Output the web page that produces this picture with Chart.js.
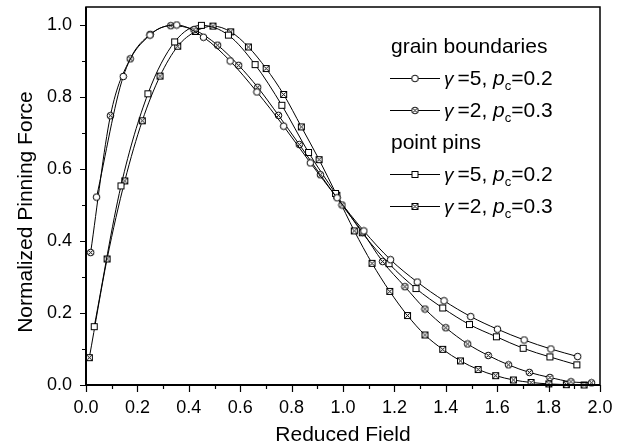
<!DOCTYPE html>
<html>
<head>
<meta charset="utf-8">
<script src="https://cdn.jsdelivr.net/npm/chart.js@4/dist/chart.umd.min.js"></script>
<style>
  html, body { margin: 0; padding: 0; background: #fff; }
  #chart { display: block; }
</style>
</head>
<body>
<canvas id="chart" width="621" height="447"></canvas>
<script>
// --- Data ---
// grain boundaries, gamma=5, pc=0.2 (open circles)
const gb5X = [0.041, 0.145, 0.249, 0.353, 0.457, 0.561, 0.665, 0.769, 0.873, 0.977, 1.081, 1.185, 1.289, 1.393, 1.497, 1.601, 1.705, 1.809, 1.913];
const gb5Y = [0.522, 0.857, 0.972, 1.000, 0.966, 0.900, 0.814, 0.719, 0.617, 0.520, 0.428, 0.348, 0.286, 0.234, 0.190, 0.155, 0.125, 0.100, 0.079];

// grain boundaries, gamma=2, pc=0.3 (hatched circles)
const gb2X = [0.018, 0.095, 0.172, 0.250, 0.330, 0.420, 0.512, 0.594, 0.668, 0.749, 0.830, 0.912, 0.996, 1.076, 1.154, 1.241, 1.319, 1.400, 1.485, 1.565, 1.644, 1.725, 1.805, 1.887, 1.967];
const gb2Y = [0.368, 0.748, 0.906, 0.974, 0.998, 0.987, 0.944, 0.888, 0.827, 0.749, 0.668, 0.584, 0.500, 0.425, 0.343, 0.273, 0.211, 0.159, 0.114, 0.082, 0.056, 0.035, 0.021, 0.009, 0.006];

// point pins, gamma=5, pc=0.2 (open squares)
const pp5X = [0.032, 0.136, 0.241, 0.345, 0.449, 0.554, 0.658, 0.762, 0.866, 0.971, 1.075, 1.179, 1.284, 1.388, 1.492, 1.597, 1.701, 1.805, 1.910];
const pp5Y = [0.162, 0.553, 0.809, 0.953, 0.999, 0.972, 0.890, 0.777, 0.646, 0.532, 0.423, 0.337, 0.268, 0.214, 0.168, 0.134, 0.102, 0.078, 0.056];

// point pins, gamma=2, pc=0.3 (hatched squares)
const pp2X = [0.013, 0.082, 0.151, 0.219, 0.288, 0.357, 0.426, 0.494, 0.563, 0.632, 0.701, 0.769, 0.838, 0.907, 0.976, 1.044, 1.113, 1.182, 1.251, 1.319, 1.388, 1.457, 1.526, 1.594, 1.663, 1.732, 1.801, 1.869, 1.938];
const pp2Y = [0.076, 0.350, 0.567, 0.734, 0.858, 0.941, 0.982, 0.997, 0.981, 0.939, 0.879, 0.807, 0.717, 0.626, 0.527, 0.428, 0.338, 0.260, 0.193, 0.139, 0.099, 0.067, 0.043, 0.026, 0.014, 0.007, 0.003, 0.001, 0.000];

const xTicks = [0, 0.2, 0.4, 0.6, 0.8, 1.0, 1.2, 1.4, 1.6, 1.8, 2.0];
const yTicks = [0, 0.2, 0.4, 0.6, 0.8, 1.0];
const xTitle = "Reduced Field";
const yTitle = "Normalized Pinning Force";

const FONT = "'Liberation Sans', Arial, sans-serif";

// --- Marker images ---
function makeMarker(shape, hatched) {
    const c = document.createElement("canvas");
    c.width = 9; c.height = 9;
    const g = c.getContext("2d");
    g.lineWidth = 1;
    g.strokeStyle = "#000";
    g.fillStyle = "#fff";
    if (shape === "circle") {
        g.beginPath();
        g.arc(4.5, 4.5, 3.3, 0, Math.PI * 2);
        g.fill();
        g.stroke();
    } else {
        g.fillRect(1.5, 1.5, 6, 6);
        g.strokeRect(1.5, 1.5, 6, 6);
    }
    if (hatched) {
        g.beginPath();
        g.moveTo(2.3, 2.3); g.lineTo(6.7, 6.7);
        g.moveTo(6.7, 2.3); g.lineTo(2.3, 6.7);
        g.stroke();
    }
    return c;
}

const markers = {
    gb5: makeMarker("circle", false),
    gb2: makeMarker("circle", true),
    pp5: makeMarker("square", false),
    pp2: makeMarker("square", true)
};

function series(xs, ys, marker) {
    return {
        data: xs.map((x, i) => ({ x: x, y: ys[i] })),
        borderColor: "#000",
        borderWidth: 1,
        pointStyle: marker,
        pointRadius: 4,
        cubicInterpolationMode: "monotone",
        clip: false
    };
}

// --- Frame, ticks, titles and legend ---
const decorations = {
    id: "decorations",
    afterDraw(chart) {
        const ctx = chart.ctx;
        const a = chart.chartArea;
        const xs = chart.scales.x, ys = chart.scales.y;
        ctx.save();
        ctx.strokeStyle = "#000";

        // frame
        ctx.lineWidth = 1.5;
        ctx.strokeRect(a.left, a.top, a.right - a.left, a.bottom - a.top);
        ctx.lineWidth = 2;
        ctx.beginPath();
        ctx.moveTo(a.left, a.top); ctx.lineTo(a.left, a.bottom); ctx.lineTo(a.right, a.bottom);
        ctx.stroke();

        // ticks (major + minor, outward)
        ctx.lineWidth = 1.2;
        ctx.beginPath();
        for (let i = 0; i <= 20; i++) {
            const px = Math.round(xs.getPixelForValue(i / 10)) + 0.5;
            const len = i % 2 === 0 ? 7 : 4;
            ctx.moveTo(px, a.bottom); ctx.lineTo(px, a.bottom + len);
        }
        for (let i = 0; i <= 10; i++) {
            const py = Math.round(ys.getPixelForValue(i / 10)) + 0.5;
            const len = i % 2 === 0 ? 6 : 4;
            ctx.moveTo(a.left, py); ctx.lineTo(a.left - len, py);
        }
        ctx.stroke();

        // axis titles
        ctx.fillStyle = "#000";
        ctx.font = "21px " + FONT;
        ctx.textAlign = "center";
        ctx.textBaseline = "middle";
        ctx.fillText(xTitle, (a.left + a.right) / 2, 435);
        ctx.save();
        ctx.translate(26, 212);
        ctx.rotate(-Math.PI / 2);
        ctx.fillText(yTitle, 0, 0);
        ctx.restore();

        // legend
        const rows = [
            { head: "grain boundaries", y: 46 },
            { g: "5", p: "0.2", m: markers.gb5, y: 78 },
            { g: "2", p: "0.3", m: markers.gb2, y: 110 },
            { head: "point pins", y: 142 },
            { g: "5", p: "0.2", m: markers.pp5, y: 174 },
            { g: "2", p: "0.3", m: markers.pp2, y: 206 }
        ];
        ctx.textAlign = "left";
        ctx.textBaseline = "alphabetic";
        rows.forEach(r => {
            const base = r.y + 7;
            if (r.head) {
                ctx.font = "21px " + FONT;
                ctx.fillText(r.head, 391, base);
                return;
            }
            ctx.lineWidth = 1;
            ctx.beginPath();
            ctx.moveTo(390, r.y + 0.5); ctx.lineTo(440, r.y + 0.5);
            ctx.stroke();
            ctx.drawImage(r.m, 415 - 4.5, r.y + 0.5 - 4.5);
            let x = 444;
            ctx.font = "italic 19px " + FONT;
            ctx.fillText("\u03b3", x, base);
            x += ctx.measureText("\u03b3").width + 4;
            ctx.font = "21px " + FONT;
            const mid = "=" + r.g + ", ";
            ctx.fillText(mid, x, base);
            x += ctx.measureText(mid).width;
            ctx.font = "italic 21px " + FONT;
            ctx.fillText("p", x, base);
            x += ctx.measureText("p").width;
            ctx.font = "13px " + FONT;
            ctx.fillText("c", x, base + 5);
            x += ctx.measureText("c").width;
            ctx.font = "21px " + FONT;
            ctx.fillText("=" + r.p, x, base);
        });
        ctx.restore();
    }
};

const chart = new Chart(document.getElementById("chart"), {
    type: "line",
    data: {
        datasets: [
            series(gb5X, gb5Y, markers.gb5),
            series(gb2X, gb2Y, markers.gb2),
            series(pp5X, pp5Y, markers.pp5),
            series(pp2X, pp2Y, markers.pp2)
        ]
    },
    options: {
        responsive: false,
        animation: false,
        devicePixelRatio: 1,
        layout: { padding: { top: 7, right: 21, left: 0, bottom: 0 } },
        plugins: { legend: { display: false }, tooltip: { enabled: false } },
        scales: {
            x: {
                type: "linear",
                min: 0, max: 2,
                afterBuildTicks: s => { s.ticks = xTicks.map(v => ({ value: v })); },
                afterFit: s => { s.height = 62; s.paddingLeft = 0; s.paddingRight = 0; },
                grid: { display: false, drawTicks: false },
                border: { display: false },
                ticks: {
                    color: "#000",
                    font: { family: FONT, size: 18 },
                    padding: 12,
                    maxRotation: 0,
                    autoSkip: false,
                    callback: v => v.toFixed(1)
                }
            },
            y: {
                type: "linear",
                min: 0, max: 1.05,
                afterBuildTicks: s => { s.ticks = yTicks.map(v => ({ value: v })); },
                afterFit: s => { s.width = 86; s.paddingTop = 0; s.paddingBottom = 0; },
                grid: { display: false, drawTicks: false },
                border: { display: false },
                ticks: {
                    color: "#000",
                    font: { family: FONT, size: 18 },
                    padding: 14,
                    autoSkip: false,
                    callback: v => v.toFixed(1)
                }
            }
        }
    },
    plugins: [decorations]
});
</script>
</body>
</html>
